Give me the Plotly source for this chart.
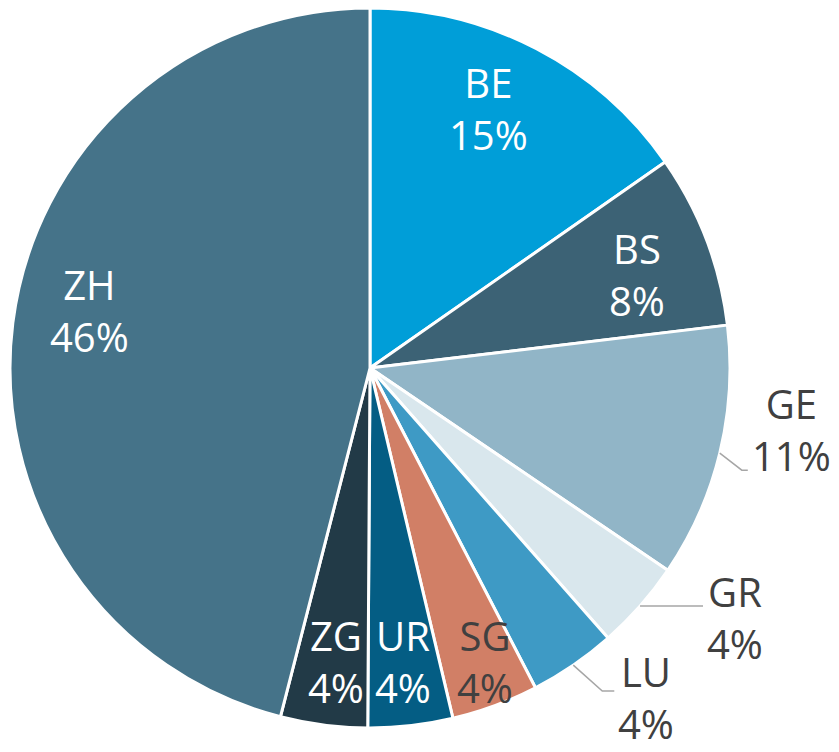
import math
import plotly.graph_objects as go

labels = ["BE", "BS", "GE", "GR", "LU", "SG", "UR", "ZG", "ZH"]
values = [15.3, 7.8, 11.4, 4.0, 3.9, 3.9, 3.8, 3.9, 46.0]
colors = ["#009ed8", "#3c6275", "#91b5c7", "#d9e7ed", "#3e9ac5", "#d17f66", "#045d84", "#223a47", "#457389"]
text_colors = ["#ffffff", "#ffffff", "#404040", "#404040", "#404040", "#404040", "#ffffff", "#ffffff", "#ffffff"]
outside = [False, False, True, True, True, False, False, False, False]

# label styling: inside labels -> (radius factor, angular nudge in degrees)
inside_style = {"BE": (0.793, -3.0), "BS": (0.786, 1.6), "SG": (0.875, -1.0),
                "UR": (0.821, 0.0), "ZG": (0.820, -0.7), "ZH": (0.795, 4.4)}
# outside labels -> leader elbow offset (dx, dy) px, horizontal length px, label vertical offset px
leader_style = {
    "GE": (22, 17, 6, -41),
    "GR": (0, 0, 63, 11),
    "LU": (29, 26, 12, 6),
}

W, H = 823, 744
CX, CY, R = 362.0, 360.0, 360.0
FONT = "Open Sans"
FS = 40

fig = go.Figure(go.Pie(
    labels=labels,
    values=values,
    sort=False,
    direction="clockwise",
    rotation=0,
    automargin=False,
    marker=dict(colors=colors, line=dict(color="#ffffff", width=3)),
    textinfo="none",
    showlegend=False,
    hoverinfo="label+percent",
    domain=dict(x=[(CX - R) / W, (CX + R) / W], y=[1 - (CY + R) / H, 1 - (CY - R) / H]),
))

total = sum(values)


def pt(theta_deg, r):
    a = math.radians(theta_deg)
    return CX + r * math.sin(a), CY - r * math.cos(a)


def px(x):
    return x / W


def py(y):
    return 1 - y / H


cum = 0.0
annotations = []
shapes = []
for lab, v, col, out in zip(labels, values, text_colors, outside):
    mid = (cum + v / 2) / total * 360
    cum += v
    txt = f"{lab}<br>{round(v / total * 100)}%"
    if not out:
        rf, nudge = inside_style[lab]
        x, y = pt(mid + nudge, rf * R)
        annotations.append(dict(x=px(x), y=py(y), xref="paper", yref="paper", text=txt,
                                showarrow=False, xanchor="center", yanchor="middle",
                                font=dict(family=FONT, size=FS, color=col)))
    else:
        edx, edy, hl, dy = leader_style[lab]
        sx, sy = pt(mid, R)
        ex, ey = sx + edx, sy + edy
        fx = ex + hl
        shapes.append(dict(type="path", xref="paper", yref="paper",
                           path=f"M {px(sx)},{py(sy)} L {px(ex)},{py(ey)} L {px(fx)},{py(ey)}",
                           line=dict(color="#a6a6a6", width=1.5)))
        annotations.append(dict(x=px(fx + 2), y=py(ey + dy), xref="paper", yref="paper", text=txt,
                                showarrow=False, xanchor="left", yanchor="middle", align="center",
                                font=dict(family=FONT, size=FS, color=col)))

fig.update_layout(
    width=W, height=H,
    margin=dict(l=0, r=0, t=0, b=0),
    paper_bgcolor="#ffffff",
    annotations=annotations,
    shapes=shapes,
)

fig.write_html("out.html")
